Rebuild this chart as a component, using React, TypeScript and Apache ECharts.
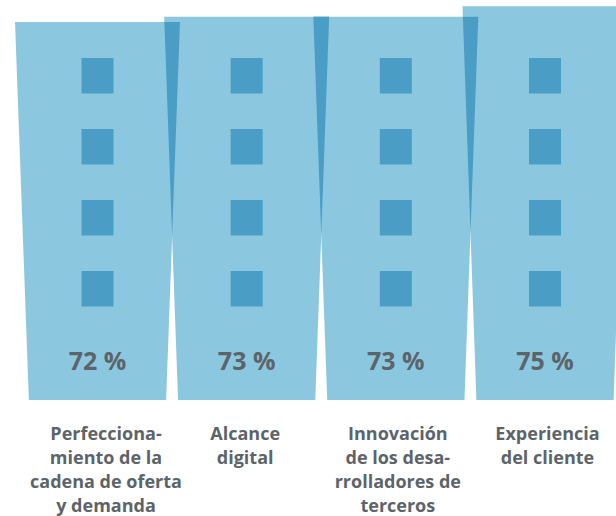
import React, { useEffect, useRef } from "react";
import * as echarts from "echarts";

const categories = [
  "Perfecciona-\nmiento de la\ncadena de oferta\ny demanda",
  "Alcance\ndigital",
  "Innovación\nde los desa-\nrrolladores de\nterceros",
  "Experiencia\ndel cliente",
];
const values = [72, 73, 73, 75];
const valueLabels = values.map((v) => `${v} %`);

// layout constants (not data)
const LIGHT = "#8BC8E0";
const DARK = "#4A9EC5";
const TEXT = "#5D6469";
const FONT = "'Open Sans', sans-serif";
const TOP_HALF = 0.553; // half width at top, in x-axis units
const BOT_HALF = 0.46; // half width at base, in x-axis units
const WIN_W = 32;
const WIN_H = 35.5;
const WIN_TOPS_ABOVE_BASE = [342, 271, 200, 129];
const LABEL_DX = [8.5, -1.5, 2, 2.5];

export default function App() {
  const ref = useRef<HTMLDivElement>(null);
  useEffect(() => {
    document.body.style.margin = "0";
    const chart = echarts.init(ref.current!, null, { renderer: "svg" });

    const xAt = (p: number[], q: number[], y: number) =>
      p[0] + ((q[0] - p[0]) * (y - p[1])) / (q[1] - p[1]);

    const option: any = {
      animation: false,
      grid: { left: 0, right: 0, top: 0, bottom: 116 },
      xAxis: { type: "value", min: -0.6536, max: 3.476, show: false },
      yAxis: { type: "value", min: 0, max: 76.19, show: false },
      series: [
        {
          type: "custom",
          clip: false,
          data: values.map((v, i) => [i, v]),
          renderItem: (params: any, api: any) => {
            const i = api.value(0);
            const v = api.value(1);
            const tl = api.coord([i - TOP_HALF, v]);
            const tr = api.coord([i + TOP_HALF, v]);
            const br = api.coord([i + BOT_HALF, 0]);
            const bl = api.coord([i - BOT_HALF, 0]);
            return {
              type: "polygon",
              shape: { points: [tl, tr, br, bl] },
              style: { fill: LIGHT },
            };
          },
        },
        {
          type: "custom",
          clip: false,
          data: values.slice(0, -1).map((v, i) => [i, v, values[i + 1]]),
          renderItem: (params: any, api: any) => {
            const i = api.value(0);
            const v1 = api.value(1);
            const v2 = api.value(2);
            const rTop = api.coord([i + TOP_HALF, v1]);
            const rBot = api.coord([i + BOT_HALF, 0]);
            const lTop = api.coord([i + 1 - TOP_HALF, v2]);
            const lBot = api.coord([i + 1 - BOT_HALF, 0]);
            const yTop = Math.max(rTop[1], lTop[1]);
            const base = rBot[1];
            const xr = xAt(rTop, rBot, yTop);
            const xl = xAt(lTop, lBot, yTop);
            const f0 = xr - xl;
            const f1 = rBot[0] - lBot[0];
            const yc = yTop + (f0 * (base - yTop)) / (f0 - f1);
            const xc = xAt(rTop, rBot, yc);
            return {
              type: "polygon",
              shape: { points: [[xl, yTop], [xr, yTop], [xc, yc]] },
              style: { fill: DARK },
            };
          },
        },
        {
          type: "custom",
          clip: false,
          data: values.map((v, i) => [i, v]),
          renderItem: (params: any, api: any) => {
            const i = api.value(0);
            const base = api.coord([i, 0]);
            const cx = base[0];
            const children: any[] = WIN_TOPS_ABOVE_BASE.map((t) => ({
              type: "rect",
              shape: { x: cx - WIN_W / 2, y: base[1] - t, width: WIN_W, height: WIN_H },
              style: { fill: DARK },
            }));
            children.push({
              type: "text",
              x: cx,
              y: base[1] - 40,
              style: {
                text: valueLabels[i],
                fill: TEXT,
                fontFamily: FONT,
                fontSize: 25,
                fontWeight: "bold",
                align: "center",
                verticalAlign: "middle",
              },
            });
            children.push({
              type: "text",
              x: cx + LABEL_DX[i],
              y: base[1] + 21,
              style: {
                text: categories[i],
                fill: TEXT,
                fontFamily: FONT,
                fontSize: 18,
                fontWeight: "bold",
                lineHeight: 24,
                align: "center",
                verticalAlign: "top",
              },
            });
            return { type: "group", children };
          },
        },
      ],
    };
    chart.setOption(option);
    return () => chart.dispose();
  }, []);
  return <div ref={ref} style={{ width: 616, height: 516 }} />;
}
